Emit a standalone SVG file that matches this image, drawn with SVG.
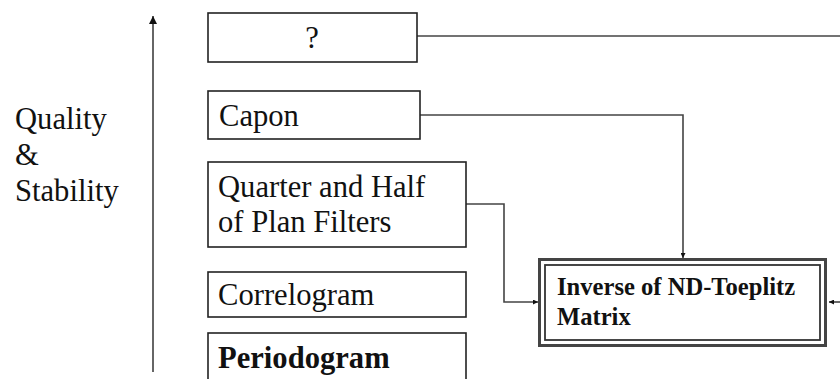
<svg xmlns="http://www.w3.org/2000/svg" width="840" height="379" viewBox="0 0 840 379">
<defs>
<style>
.box{fill:#fff;stroke:#222;stroke-width:1.6}
.t{font-family:'Liberation Serif',Tinos,'DejaVu Serif',serif;font-size:30.6px;fill:#111}
.b{font-weight:bold}
.s{font-size:24.6px}
.c{fill:none;stroke:#444;stroke-width:1.6}
.ax{fill:none;stroke:#666;stroke-width:2}
</style>
<marker id="ah" viewBox="0 0 10 10" refX="10" refY="5" markerWidth="5" markerHeight="5" orient="auto" markerUnits="userSpaceOnUse">
<path d="M0,0 L10,5 L0,10 z" fill="#111"/>
</marker>
<marker id="ahA" viewBox="0 0 10 10" refX="10" refY="5" markerWidth="9" markerHeight="8" orient="auto" markerUnits="userSpaceOnUse">
<path d="M0,0 L10,5 L0,10 z" fill="#111"/>
</marker>
</defs>
<g id="axis">
<line class="ax" x1="153" y1="372" x2="153" y2="16" marker-end="url(#ahA)"/>
<text class="t" x="15" y="129">Quality</text>
<text class="t" x="15" y="165">&amp;</text>
<text class="t" x="15" y="201">Stability</text>
</g>
<g id="connectors">
<polyline class="c" points="417,36 840,36"/>
<polyline class="c" points="420,115 683,115 683,258" marker-end="url(#ah)"/>
<polyline class="c" points="466,204 504,204 504,302 538,302" marker-end="url(#ah)"/>
<polyline class="c" points="840,302 829,302" marker-end="url(#ah)"/>
</g>
<g id="node-unknown">
<rect class="box" x="208" y="13" width="209" height="49"/>
<text class="t" x="312" y="48" text-anchor="middle">?</text>
</g>
<g id="node-capon">
<rect class="box" x="208" y="91" width="212" height="48"/>
<text class="t" x="219" y="126">Capon</text>
</g>
<g id="node-quarter">
<rect class="box" x="208" y="162" width="258" height="85"/>
<text class="t" x="218" y="197">Quarter and Half</text>
<text class="t" x="218" y="232">of Plan Filters</text>
</g>
<g id="node-correlogram">
<rect class="box" x="208" y="272" width="258" height="45"/>
<text class="t" x="218" y="305">Correlogram</text>
</g>
<g id="node-periodogram">
<rect class="box" x="208" y="333" width="258" height="60"/>
<text class="t b" x="218" y="368">Periodogram</text>
</g>
<g id="node-toeplitz">
<rect x="539.5" y="259.5" width="286" height="86" fill="#fff" stroke="#444" stroke-width="3"/>
<rect x="545" y="265" width="275" height="75" fill="none" stroke="#333" stroke-width="1.8"/>
<text class="t b s" x="557" y="295">Inverse of ND-Toeplitz</text>
<text class="t b s" x="557" y="325">Matrix</text>
</g>
</svg>
